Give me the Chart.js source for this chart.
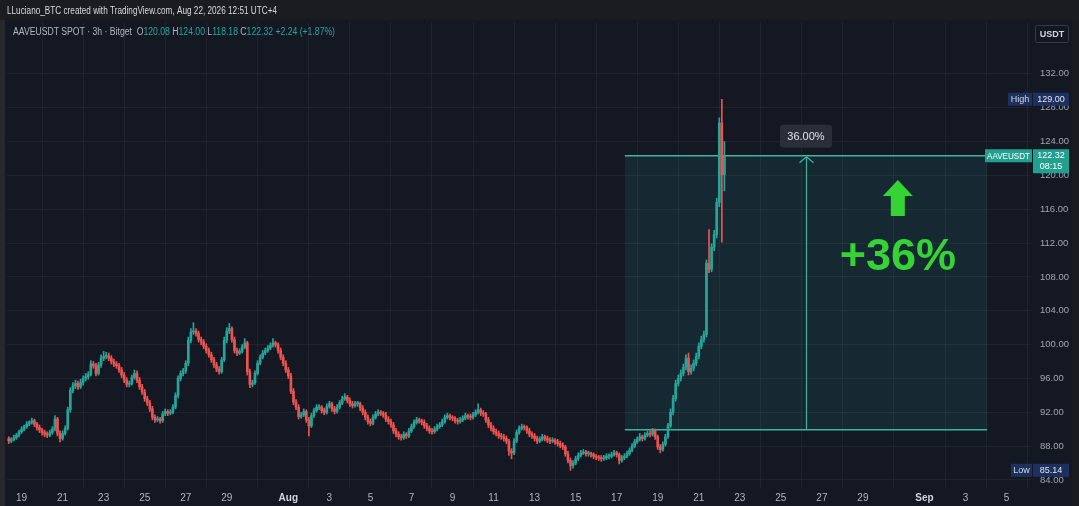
<!DOCTYPE html>
<html>
<head>
<meta charset="utf-8">
<style>
  html, body { margin: 0; padding: 0; background: #141823; overflow: hidden; }
  canvas { display: block; }
</style>
<script src="https://cdn.jsdelivr.net/npm/chart.js@4.4.1/dist/chart.umd.min.js"></script>
</head>
<body>
<canvas id="chart" width="1079" height="506"></canvas>
<script>
// AAVEUSDT 3h candles, Jul 18 15:00 -> Aug 22 06:00 (x = days from Jul 19)
var firstCandle = -0.625;
var candleStep = 0.125;

var opens = [
  88.9, 88.6, 88.8, 89.0, 89.3, 89.7, 90.0, 90.3, 90.6, 90.8,
  91.0, 90.6, 90.2, 89.9, 89.6, 89.4, 89.3, 89.6, 90.0, 91.2,
  89.5, 88.9, 89.5, 90.1, 92.3, 94.6, 95.1, 95.4, 95.0, 95.5,
  96.0, 96.2, 96.5, 97.7, 97.5, 96.6, 97.6, 98.4, 98.6, 98.7,
  98.4, 98.0, 97.7, 97.5, 97.0, 96.4, 95.8, 95.3, 95.4, 96.1,
  96.6, 95.8, 95.0, 94.4, 93.6, 93.1, 92.4, 91.4, 91.1, 91.2,
  91.0, 91.8, 92.1, 91.9, 92.0, 92.6, 94.0, 96.0, 96.6, 96.9,
  97.8, 100.5, 101.5, 101.6, 101.3, 100.6, 100.3, 99.8, 99.3, 98.8,
  98.2, 97.6, 97.1, 96.8, 98.2, 100.5, 101.6, 101.9, 100.6, 99.3,
  99.0, 99.2, 99.7, 100.2, 96.8, 95.3, 95.5, 96.6, 97.8, 98.5,
  99.0, 99.3, 99.6, 99.9, 100.2, 100.0, 99.3, 98.5, 97.8, 97.0,
  96.3, 94.5, 93.2, 92.6, 91.5, 91.7, 92.1, 91.1, 90.4, 91.6,
  92.2, 92.6, 92.6, 92.2, 92.0, 92.7, 93.0, 92.4, 92.1, 92.6,
  93.1, 93.6, 93.8, 93.4, 93.0, 92.8, 93.0, 93.0, 92.5, 92.0,
  91.4, 90.9, 90.7, 91.4, 91.8, 92.0, 91.9, 91.7, 91.2, 90.9,
  90.5, 89.8, 89.4, 89.1, 89.0, 89.4, 89.2, 89.8, 90.3, 90.8,
  91.1, 91.0, 90.8, 90.4, 90.1, 89.8, 89.7, 90.0, 90.3, 90.5,
  90.9, 91.4, 91.6, 91.4, 91.3, 91.0, 90.9, 91.1, 91.3, 91.6,
  91.5, 91.4, 91.7, 92.0, 92.3, 91.9, 91.8, 91.1, 90.5, 90.1,
  89.7, 89.5, 89.2, 89.1, 88.9, 88.6, 87.4, 87.2, 88.6, 89.6,
  90.1, 90.3, 90.2, 89.8, 89.4, 89.2, 88.9, 88.6, 88.8, 89.1,
  88.9, 88.7, 88.6, 88.7, 88.5, 88.3, 88.1, 87.9, 87.1, 86.3,
  85.7, 86.0, 86.5, 86.9, 87.2, 87.3, 87.1, 87.1, 87.0, 86.8,
  86.7, 86.6, 86.5, 86.6, 86.8, 86.8, 87.0, 87.2, 87.0, 86.3,
  86.6, 86.8, 87.1, 87.5, 88.0, 88.5, 88.8, 89.1, 88.9, 89.3,
  89.5, 89.4, 89.8, 89.1, 87.9, 87.6, 88.2, 89.1, 90.4, 92.0,
  93.6, 95.4, 96.0, 96.6, 97.3, 98.4, 96.8, 97.2, 97.8, 98.6,
  99.8, 100.6, 101.2, 109.6, 108.9, 111.5, 113.0, 116.8, 126.2, 120.08
];
var highs = [
  89.1, 89.0, 89.3, 89.5, 89.9, 90.3, 90.5, 90.9, 91.0, 91.3,
  91.2, 90.8, 90.5, 90.1, 89.9, 89.7, 89.9, 90.3, 91.6, 91.4,
  89.8, 89.8, 90.4, 92.6, 94.9, 95.5, 95.8, 95.7, 95.9, 96.3,
  96.6, 96.8, 98.1, 98.0, 97.8, 97.9, 98.8, 99.2, 99.1, 99.0,
  98.7, 98.3, 98.0, 97.8, 97.3, 96.7, 96.1, 95.7, 96.4, 97.0,
  96.9, 96.1, 95.3, 94.7, 93.9, 93.4, 92.7, 91.7, 91.5, 91.4,
  92.1, 92.4, 92.3, 92.3, 92.9, 94.3, 96.3, 96.9, 97.2, 98.1,
  100.9, 101.9, 102.6, 101.9, 101.6, 100.9, 100.6, 100.1, 99.6, 99.1,
  98.5, 97.9, 97.4, 98.5, 100.9, 102.0, 102.5, 102.1, 100.9, 99.6,
  99.5, 100.0, 100.7, 100.4, 97.1, 95.8, 96.9, 98.1, 98.8, 99.3,
  99.6, 99.9, 100.2, 100.7, 100.4, 100.2, 99.6, 98.8, 98.1, 97.3,
  96.6, 94.8, 93.5, 92.9, 92.0, 92.4, 92.3, 91.4, 91.9, 92.5,
  92.9, 92.9, 92.8, 92.5, 93.0, 93.3, 93.2, 92.7, 92.9, 93.4,
  93.9, 94.2, 94.0, 93.7, 93.3, 93.3, 93.3, 93.2, 92.8, 92.3,
  91.7, 91.2, 91.7, 92.1, 92.3, 92.2, 92.1, 92.0, 91.5, 91.2,
  90.8, 90.1, 89.7, 89.4, 89.7, 89.6, 90.1, 90.6, 91.1, 91.4,
  91.3, 91.2, 91.1, 90.7, 90.4, 90.1, 90.3, 90.6, 90.8, 91.2,
  91.7, 91.9, 91.8, 91.6, 91.5, 91.3, 91.4, 91.6, 91.9, 91.8,
  91.8, 92.0, 92.3, 93.0, 92.5, 92.2, 92.0, 91.4, 90.8, 90.4,
  90.0, 89.8, 89.5, 89.4, 89.2, 88.8, 87.7, 88.9, 89.9, 90.4,
  90.6, 90.5, 90.4, 90.1, 89.7, 89.5, 89.2, 89.1, 89.4, 89.3,
  89.2, 89.0, 89.0, 88.9, 88.8, 88.6, 88.4, 88.1, 87.4, 86.6,
  86.3, 86.8, 87.2, 87.5, 87.6, 87.5, 87.4, 87.3, 87.2, 87.0,
  86.9, 86.9, 86.9, 87.1, 87.1, 87.3, 87.5, 87.4, 87.2, 86.9,
  87.1, 87.4, 87.8, 88.3, 88.8, 89.1, 89.5, 89.3, 89.6, 89.8,
  89.8, 90.1, 90.0, 89.3, 88.2, 88.5, 89.4, 90.7, 92.4, 94.0,
  95.8, 96.4, 97.0, 97.7, 98.8, 99.0, 97.6, 98.2, 99.0, 100.2,
  101.0, 101.6, 110.0, 113.6, 111.9, 113.5, 117.3, 126.8, 129.0, 124.0
];
var lows = [
  88.3, 88.4, 88.6, 88.8, 89.1, 89.5, 89.8, 90.1, 90.4, 90.6,
  90.3, 89.9, 89.6, 89.3, 89.1, 89.0, 89.1, 89.4, 89.8, 89.2,
  88.5, 88.7, 89.3, 89.9, 92.0, 94.3, 94.8, 94.7, 94.8, 95.2,
  95.7, 95.9, 96.3, 97.2, 96.3, 96.4, 97.3, 98.1, 98.3, 98.1,
  97.7, 97.4, 97.2, 96.7, 96.1, 95.5, 95.0, 95.0, 95.2, 95.9,
  95.5, 94.7, 94.1, 93.3, 92.8, 92.1, 91.1, 90.8, 90.9, 90.7,
  90.8, 91.6, 91.6, 91.7, 91.8, 92.4, 93.7, 95.7, 96.3, 96.6,
  97.5, 100.2, 101.2, 101.0, 100.3, 100.0, 99.5, 99.0, 98.5, 97.9,
  97.3, 96.8, 96.5, 96.6, 98.0, 100.2, 101.3, 100.3, 99.0, 98.7,
  98.8, 99.0, 99.5, 96.4, 94.9, 95.0, 95.3, 96.4, 97.6, 98.3,
  98.8, 99.1, 99.4, 99.7, 99.7, 99.0, 98.2, 97.5, 96.7, 96.0,
  94.2, 92.9, 92.3, 91.2, 91.3, 91.5, 90.8, 89.2, 90.2, 91.4,
  92.0, 92.3, 91.9, 91.7, 91.8, 92.5, 92.1, 91.8, 91.9, 92.4,
  92.9, 93.4, 93.1, 92.7, 92.5, 92.6, 92.7, 92.2, 91.7, 91.1,
  90.6, 90.4, 90.5, 91.2, 91.6, 91.6, 91.4, 90.9, 90.6, 90.2,
  89.5, 89.1, 88.8, 88.7, 88.8, 88.9, 89.0, 89.6, 90.1, 90.6,
  90.7, 90.5, 90.1, 89.8, 89.5, 89.4, 89.5, 89.8, 90.1, 90.3,
  90.7, 91.2, 91.1, 91.0, 90.7, 90.6, 90.7, 90.9, 91.1, 91.2,
  91.1, 91.2, 91.5, 91.8, 91.6, 91.5, 90.8, 90.2, 89.8, 89.4,
  89.2, 88.9, 88.8, 88.6, 88.3, 86.9, 86.5, 87.0, 88.4, 89.4,
  89.9, 89.9, 89.5, 89.1, 88.9, 88.6, 88.3, 88.4, 88.6, 88.6,
  88.4, 88.3, 88.4, 88.2, 88.0, 87.8, 87.6, 86.8, 86.0, 85.14,
  85.4, 85.8, 86.3, 86.7, 87.0, 86.8, 86.8, 86.7, 86.5, 86.4,
  86.3, 86.2, 86.3, 86.4, 86.5, 86.6, 86.8, 86.7, 85.9, 86.1,
  86.4, 86.6, 86.9, 87.3, 87.8, 88.3, 88.6, 88.6, 88.7, 89.1,
  89.1, 89.2, 88.8, 87.6, 87.2, 87.4, 88.0, 88.9, 90.2, 91.7,
  93.3, 95.1, 95.7, 96.3, 97.0, 96.4, 96.5, 96.9, 97.5, 98.3,
  99.5, 100.3, 100.9, 108.5, 108.6, 111.1, 112.6, 116.3, 112.1, 118.18
];
var closes = [
  88.6, 88.8, 89.0, 89.3, 89.7, 90.0, 90.3, 90.6, 90.8, 91.0,
  90.6, 90.2, 89.9, 89.6, 89.4, 89.3, 89.6, 90.0, 91.2, 89.5,
  88.9, 89.5, 90.1, 92.3, 94.6, 95.1, 95.4, 95.0, 95.5, 96.0,
  96.2, 96.5, 97.7, 97.5, 96.6, 97.6, 98.4, 98.6, 98.7, 98.4,
  98.0, 97.7, 97.5, 97.0, 96.4, 95.8, 95.3, 95.4, 96.1, 96.6,
  95.8, 95.0, 94.4, 93.6, 93.1, 92.4, 91.4, 91.1, 91.2, 91.0,
  91.8, 92.1, 91.9, 92.0, 92.6, 94.0, 96.0, 96.6, 96.9, 97.8,
  100.5, 101.5, 101.6, 101.3, 100.6, 100.3, 99.8, 99.3, 98.8, 98.2,
  97.6, 97.1, 96.8, 98.2, 100.5, 101.6, 101.9, 100.6, 99.3, 99.0,
  99.2, 99.7, 100.2, 96.8, 95.3, 95.5, 96.6, 97.8, 98.5, 99.0,
  99.3, 99.6, 99.9, 100.2, 100.0, 99.3, 98.5, 97.8, 97.0, 96.3,
  94.5, 93.2, 92.6, 91.5, 91.7, 92.1, 91.1, 90.4, 91.6, 92.2,
  92.6, 92.6, 92.2, 92.0, 92.7, 93.0, 92.4, 92.1, 92.6, 93.1,
  93.6, 93.8, 93.4, 93.0, 92.8, 93.0, 93.0, 92.5, 92.0, 91.4,
  90.9, 90.7, 91.4, 91.8, 92.0, 91.9, 91.7, 91.2, 90.9, 90.5,
  89.8, 89.4, 89.1, 89.0, 89.4, 89.2, 89.8, 90.3, 90.8, 91.1,
  91.0, 90.8, 90.4, 90.1, 89.8, 89.7, 90.0, 90.3, 90.5, 90.9,
  91.4, 91.6, 91.4, 91.3, 91.0, 90.9, 91.1, 91.3, 91.6, 91.5,
  91.4, 91.7, 92.0, 92.3, 91.9, 91.8, 91.1, 90.5, 90.1, 89.7,
  89.5, 89.2, 89.1, 88.9, 88.6, 87.4, 87.2, 88.6, 89.6, 90.1,
  90.3, 90.2, 89.8, 89.4, 89.2, 88.9, 88.6, 88.8, 89.1, 88.9,
  88.7, 88.6, 88.7, 88.5, 88.3, 88.1, 87.9, 87.1, 86.3, 85.7,
  86.0, 86.5, 86.9, 87.2, 87.3, 87.1, 87.1, 87.0, 86.8, 86.7,
  86.6, 86.5, 86.6, 86.8, 86.8, 87.0, 87.2, 87.0, 86.3, 86.6,
  86.8, 87.1, 87.5, 88.0, 88.5, 88.8, 89.1, 88.9, 89.3, 89.5,
  89.4, 89.8, 89.1, 87.9, 87.6, 88.2, 89.1, 90.4, 92.0, 93.6,
  95.4, 96.0, 96.6, 97.3, 98.4, 96.8, 97.2, 97.8, 98.6, 99.8,
  100.6, 101.2, 109.6, 108.9, 111.5, 113.0, 116.8, 126.2, 120.08, 122.32
];

// date axis
var tickDays = [0, 2, 4, 6, 8, 10, 13, 15, 17, 19, 21, 23, 25, 27, 29, 31, 33, 35, 37, 39, 41, 44, 46, 48];
var tickLabels = ['19', '21', '23', '25', '27', '29', 'Aug', '3', '5', '7', '9', '11', '13', '15', '17', '19', '21', '23', '25', '27', '29', 'Sep', '3', '5'];
// price axis
var priceTicks = [84, 88, 92, 96, 100, 104, 108, 112, 116, 120, 124, 128, 132];

// price range tool
var rangeStart = 29.4, rangeEnd = 47.05;
var rangeLow = 89.94, rangeHigh = 122.32;

var UP = '#26a69a', DOWN = '#ef5350';
var FONT = "'Liberation Sans', Arial, sans-serif";

var candleColors = closes.map(function (c, i) { return c >= opens[i] ? UP : DOWN; });
var wickData = highs.map(function (h, i) { return { x: firstCandle + i * candleStep, y: [lows[i], h] }; });
var bodyData = opens.map(function (o, i) { return { x: firstCandle + i * candleStep, y: [o, closes[i]] }; });

// text squeezed to a given width (TradingView font is narrow)
function fitText(c, text, x, y, w) {
  var m = c.measureText(text).width;
  c.save();
  c.translate(x, y);
  c.scale(Math.min(1, w / m), 1);
  c.fillText(text, 0, 0);
  c.restore();
}

function tag(c, x, y, w, h, bg, text, color, font) {
  c.fillStyle = bg;
  c.fillRect(x, y, w, h);
  c.fillStyle = color;
  c.font = font;
  c.textAlign = 'left';
  c.textBaseline = 'middle';
  var m = Math.min(c.measureText(text).width, w - 4);
  fitText(c, text, x + (w - m) / 2, y + h / 2 + 0.5, w - 4);
}

var chrome = {
  id: 'chrome',
  beforeDraw: function (chart) {
    var c = chart.ctx;
    c.save();
    c.fillStyle = '#141823';
    c.fillRect(0, 0, chart.width, chart.height);
    c.fillStyle = '#1b1c1f';
    c.fillRect(0, 0, chart.width, 20);
    c.fillStyle = '#26282c';
    c.fillRect(0, 20, 5, chart.height - 20);
    c.fillStyle = '#1a1b1f';
    c.fillRect(1072, 20, 7, chart.height - 20);
    c.restore();
  },
  beforeDatasetsDraw: function (chart) {
    var c = chart.ctx, xs = chart.scales.x, ys = chart.scales.y;
    var x1 = xs.getPixelForValue(rangeStart), x2 = xs.getPixelForValue(rangeEnd);
    var yT = ys.getPixelForValue(rangeHigh), yB = ys.getPixelForValue(rangeLow);
    var xm = Math.round((x1 + x2) / 2) + 0.5;
    c.save();
    c.fillStyle = 'rgba(38,166,154,0.13)';
    c.fillRect(x1, yT, x2 - x1, yB - yT);
    c.strokeStyle = '#3cb4a2';
    c.lineWidth = 1.5;
    c.beginPath();
    c.moveTo(x1, yT); c.lineTo(x2, yT);
    c.moveTo(x1, yB); c.lineTo(x2, yB);
    c.stroke();
    c.lineWidth = 1.2;
    c.beginPath();
    c.moveTo(xm, yB); c.lineTo(xm, yT + 1);
    c.moveTo(xm - 7, yT + 7); c.lineTo(xm, yT + 1); c.lineTo(xm + 7, yT + 7);
    c.stroke();
    c.restore();
  },
  afterDraw: function (chart) {
    var c = chart.ctx, xs = chart.scales.x, ys = chart.scales.y;
    var x1 = xs.getPixelForValue(rangeStart), x2 = xs.getPixelForValue(rangeEnd);
    var yT = ys.getPixelForValue(rangeHigh);
    var xm = (x1 + x2) / 2;
    c.save();

    // header
    c.fillStyle = '#d8dae0';
    c.font = '10.5px ' + FONT;
    c.textAlign = 'left';
    c.textBaseline = 'middle';
    fitText(c, 'LLuciano_BTC created with TradingView.com, Aug 22, 2026 12:51 UTC+4', 7, 11, 270);

    // legend line
    var last = closes.length - 1;
    var parts = [
      ['AAVEUSDT SPOT \u00b7 3h \u00b7 Bitget  ', '#b2b5be'],
      ['O', '#b2b5be'], [opens[last].toFixed(2) + ' ', UP],
      ['H', '#b2b5be'], [highs[last].toFixed(2) + ' ', UP],
      ['L', '#b2b5be'], [lows[last].toFixed(2) + ' ', UP],
      ['C', '#b2b5be'], [closes[last].toFixed(2) + ' ', UP],
      ['+2.24 (+1.87%)', UP]
    ];
    c.font = '10px ' + FONT;
    var total = parts.reduce(function (s, p) { return s + c.measureText(p[0]).width; }, 0);
    var k = Math.min(1, 322 / total);
    var lx = 13;
    parts.forEach(function (p) {
      c.fillStyle = p[1];
      c.save();
      c.translate(lx, 32);
      c.scale(k, 1);
      c.fillText(p[0], 0, 0);
      c.restore();
      lx += c.measureText(p[0]).width * k;
    });

    // percent label of the range tool
    var pct = ((rangeHigh - rangeLow) / rangeLow * 100).toFixed(2) + '%';
    c.fillStyle = '#2a2e39';
    c.beginPath();
    c.roundRect(xm - 26, yT - 31, 52, 23, 3);
    c.fill();
    c.fillStyle = '#e0e3eb';
    c.font = '11px ' + FONT;
    c.textAlign = 'center';
    c.fillText(pct, xm, yT - 19);

    // big green arrow and text
    var green = '#36d336';
    var ax = xs.getPixelForValue(42.7), ay = ys.getPixelForValue(119.45);
    c.fillStyle = green;
    c.beginPath();
    c.moveTo(ax, ay);
    c.lineTo(ax + 15, ay + 16);
    c.lineTo(ax + 7, ay + 16);
    c.lineTo(ax + 7, ay + 36);
    c.lineTo(ax - 7, ay + 36);
    c.lineTo(ax - 7, ay + 16);
    c.lineTo(ax - 15, ay + 16);
    c.closePath();
    c.fill();
    c.font = 'bold 45px ' + FONT;
    c.textAlign = 'center';
    c.textBaseline = 'alphabetic';
    c.fillText('+' + Math.round((rangeHigh - rangeLow) / rangeLow * 100) + '%', ax, ys.getPixelForValue(108.8));

    // right price scale labels
    var small = '9px ' + FONT;
    var hi = Math.max.apply(null, highs), lo = Math.min.apply(null, lows);
    var yHi = ys.getPixelForValue(hi), yLo = ys.getPixelForValue(lo), yC = ys.getPixelForValue(closes[last]);
    tag(c, 1008, yHi - 6.5, 24, 13, '#1d3160', 'High', '#d1d4dc', small);
    tag(c, 1033, yHi - 6.5, 36, 13, '#1d3160', hi.toFixed(2), '#e0e3eb', small);
    tag(c, 1011, yLo - 6.5, 21, 13, '#1d3160', 'Low', '#d1d4dc', small);
    tag(c, 1033, yLo - 6.5, 36, 13, '#1d3160', lo.toFixed(2), '#e0e3eb', small);
    tag(c, 985, yC - 6.5, 47, 13, '#22a08f', 'AAVEUSDT', '#ffffff', small);
    c.fillStyle = '#22a08f';
    c.fillRect(1033, yC - 6.5, 36, 24);
    c.fillStyle = '#ffffff';
    c.font = small;
    c.textAlign = 'center';
    c.textBaseline = 'middle';
    c.fillText(closes[last].toFixed(2), 1051, yC);
    c.fillText('08:15', 1051, yC + 11);

    // currency box
    c.fillStyle = '#131722';
    c.strokeStyle = '#363a45';
    c.lineWidth = 1;
    c.beginPath();
    c.roundRect(1035.5, 25.5, 33, 17, 2);
    c.fill();
    c.stroke();
    c.fillStyle = '#d1d4dc';
    c.font = 'bold 9px ' + FONT;
    c.fillText('USDT', 1052, 34.5);

    c.restore();
  }
};

var ctx = document.getElementById('chart');
var chart = new Chart(ctx, {
  type: 'bar',
  data: {
    datasets: [
      {
        label: 'wick',
        data: wickData,
        backgroundColor: candleColors,
        barThickness: 1,
        grouped: false,
        order: 2
      },
      {
        label: 'body',
        data: bodyData,
        backgroundColor: candleColors,
        barThickness: 2,
        minBarLength: 1,
        grouped: false,
        order: 1
      }
    ]
  },
  options: {
    responsive: false,
    animation: false,
    devicePixelRatio: 1,
    layout: { padding: { left: 7, top: 22, right: 0, bottom: 0 } },
    plugins: {
      legend: { display: false },
      tooltip: { enabled: false }
    },
    scales: {
      x: {
        type: 'linear',
        min: -0.71,
        max: 49.19,
        offset: false,
        afterBuildTicks: function (s) { s.ticks = tickDays.map(function (v) { return { value: v }; }); },
        afterFit: function (s) { s.height = 18; },
        grid: { color: 'rgba(54,58,69,0.35)', drawTicks: false },
        border: { display: false },
        ticks: {
          autoSkip: false,
          maxRotation: 0,
          padding: 4,
          color: function (c) { return (c.index === 6 || c.index === 21) ? '#d1d4dc' : '#b2b5be'; },
          font: function (c) {
            return { family: FONT, size: 10, weight: (c.index === 6 || c.index === 21) ? 'bold' : 'normal' };
          },
          callback: function (v, i) { return tickLabels[i]; }
        }
      },
      y: {
        type: 'linear',
        position: 'right',
        min: 83.05,
        max: 138.13,
        afterBuildTicks: function (s) { s.ticks = priceTicks.map(function (v) { return { value: v }; }); },
        afterFit: function (s) { s.width = 48; },
        grid: { color: 'rgba(54,58,69,0.35)', drawTicks: false },
        border: { display: false },
        ticks: {
          padding: 9,
          color: '#a3a6af',
          font: { family: FONT, size: 9.5 },
          callback: function (v) { return Number(v).toFixed(2); }
        }
      }
    }
  },
  plugins: [chrome]
});
</script>
</body>
</html>
